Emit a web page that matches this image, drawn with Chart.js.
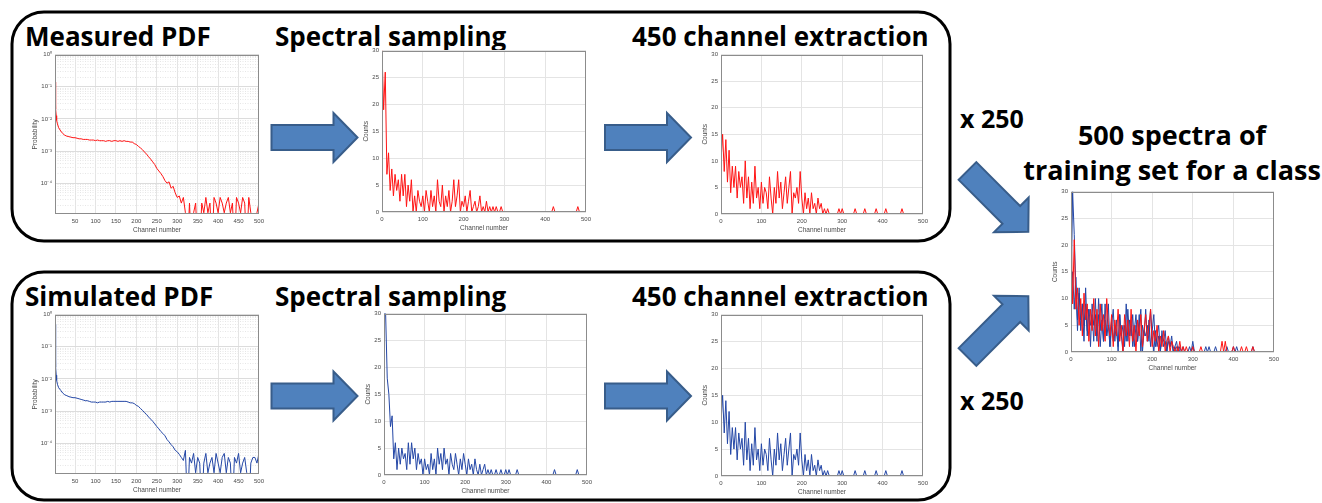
<!DOCTYPE html>
<html>
<head>
<meta charset="utf-8">
<script src="https://cdn.jsdelivr.net/npm/chart.js@4"></script>
<style>
  body { margin: 0; width: 1322px; height: 503px; background: #fff; position: relative; overflow: hidden; font-family: "Open Sans", sans-serif; }
  .t { position: absolute; font-weight: 700; color: #000; white-space: nowrap; line-height: 1; }
  canvas { position: absolute; }
  svg { position: absolute; left: 0; top: 0; }
</style>
</head>
<body>
<svg width="1322" height="503">
  <rect x="12" y="12" width="938" height="229" rx="32" fill="none" stroke="#000" stroke-width="3"/>
  <rect x="12" y="272" width="938" height="228" rx="32" fill="none" stroke="#000" stroke-width="3"/>
  <g fill="#4f81bd" stroke="#385d8a" stroke-width="2">
    <path transform="translate(271.5,137.5)" d="M0,-12.5 L62,-12.5 L62,-24.5 L86,0 L62,24.5 L62,12.5 L0,12.5 Z"/>
    <path transform="translate(605,137.5)" d="M0,-12.5 L62,-12.5 L62,-24.5 L86,0 L62,24.5 L62,12.5 L0,12.5 Z"/>
    <path transform="translate(271.5,396)" d="M0,-12.5 L62,-12.5 L62,-24.5 L86,0 L62,24.5 L62,12.5 L0,12.5 Z"/>
    <path transform="translate(605,396)" d="M0,-12.5 L62,-12.5 L62,-24.5 L86,0 L62,24.5 L62,12.5 L0,12.5 Z"/>
    <path transform="translate(967.5,171) rotate(45)" d="M0,-12.5 L62,-12.5 L62,-24.5 L86,0 L62,24.5 L62,12.5 L0,12.5 Z"/>
    <path transform="translate(967.5,357) rotate(-45)" d="M0,-12.5 L62,-12.5 L62,-24.5 L86,0 L62,24.5 L62,12.5 L0,12.5 Z"/>
  </g>
</svg>

<div class="t" style="left:25px;top:23px;font-size:26px">Measured PDF</div>
<div class="t" style="left:275px;top:23px;font-size:26px">Spectral sampling</div>
<div class="t" style="left:632px;top:23px;font-size:26px">450 channel extraction</div>
<div class="t" style="left:25px;top:283px;font-size:26px">Simulated PDF</div>
<div class="t" style="left:275px;top:283px;font-size:26px">Spectral sampling</div>
<div class="t" style="left:632px;top:283px;font-size:26px">450 channel extraction</div>
<div class="t" style="left:960px;top:106px;font-size:25px">x 250</div>
<div class="t" style="left:960px;top:388px;font-size:25px">x 250</div>
<div class="t" style="left:1012px;width:320px;text-align:center;top:121px;font-size:27px">500 spectra of</div>
<div class="t" style="left:1012px;width:320px;text-align:center;top:156px;font-size:27px">training set for a class</div>

<canvas id="mPdf"></canvas>
<canvas id="mSamp"></canvas>
<canvas id="mExt"></canvas>
<canvas id="sPdf"></canvas>
<canvas id="sSamp"></canvas>
<canvas id="sExt"></canvas>
<canvas id="train"></canvas>

<script>
// ---- data ----
const pdfChannels = [
  1, 2, 3, 4, 5, 7, 10,
  15, 20, 25, 30, 35, 40, 45, 50, 55, 60,
  65, 70, 75, 80, 85, 90, 95, 100, 105, 110,
  115, 120, 125, 130, 135, 140, 145, 150, 155, 160,
  165, 170, 175, 180, 185, 190, 195, 200, 205, 210,
  215, 220, 225, 230, 235, 240, 245, 250, 255, 260,
  265, 270, 275, 280, 285, 290, 295, 300, 305, 310,
  315, 320, 325, 330, 335, 340, 345, 350, 355, 360,
  365, 370, 375, 380, 385, 390, 395, 400, 405, 410,
  415, 420, 425, 430, 435, 440, 445, 450, 455, 460,
  465, 470, 475, 480, 485, 490, 495, 500
];

const measuredPdf = [
  0.14, 0.042, 0.02, 0.0126, 0.009, 0.007, 0.0053,
  0.0042, 0.0035, 0.0031, 0.0029, 0.0028, 0.0027, 0.0026, 0.0026, 0.0025, 0.0024,
  0.0024, 0.0023, 0.0023, 0.0023, 0.0022, 0.0022, 0.0022, 0.0021, 0.0022, 0.0021,
  0.0021, 0.0021, 0.0020, 0.0021, 0.0021, 0.0020, 0.0021, 0.0021, 0.0020, 0.0021,
  0.0020, 0.0021, 0.0020, 0.0020, 0.0019, 0.0019, 0.0017, 0.0016, 0.0014, 0.00125,
  0.0011, 0.00093, 0.0008, 0.00066, 0.00056, 0.00046, 0.00038, 0.00029, 0.00024, 0.0002,
  0.00016, 0.00012, 0.0001, 0.00011, 0.00007, 0.00008, 0.00005, 0.000036, 0.00004, 0.000024,
  0.000036, 0.000012, 0, 0.000024, 0, 0.000012, 0.000024, 0, 0, 0.000024,
  0.000012, 0.000036, 0.000012, 0.000024, 0, 0.000036, 0.000024, 0.000012, 0.000036, 0.000024,
  0.000012, 0.000024, 0.000036, 0.000012, 0.000024, 0, 0.000036, 0.000024, 0.000012, 0.000036,
  0.000024, 0, 0.000036, 0.000012, 0, 0, 0.000012, 0.000024
];

const simulatedPdf = [
  0.5, 0.076, 0.023, 0.013, 0.009, 0.0068, 0.0053,
  0.0044, 0.0036, 0.0032, 0.003, 0.0028, 0.0027, 0.0026, 0.0026, 0.0025, 0.0024,
  0.0023, 0.0022, 0.0021, 0.0021, 0.002, 0.0019, 0.0019, 0.0019, 0.0018, 0.0019,
  0.0019, 0.0019, 0.0019, 0.0020, 0.0019, 0.0020, 0.0020, 0.0020, 0.0020, 0.0020,
  0.0020, 0.0020, 0.0020, 0.0019, 0.0018, 0.0018, 0.0017, 0.0015, 0.0014, 0.0012,
  0.00105, 0.00089, 0.00078, 0.00065, 0.00056, 0.00048, 0.0004, 0.00033, 0.00028, 0.00023,
  0.0002, 0.00017, 0.00013, 0.00011, 0.00009, 0.000077, 0.00006, 0.000054, 0.000045, 0.000036,
  0.000029, 0.00006, 0, 0.000036, 0.000024, 0.000048, 0.000012, 0.000036, 0.000024, 0,
  0.000024, 0.000048, 0.000012, 0.000024, 0.000036, 0.000012, 0.000048, 0.000024, 0.000012, 0.000036,
  0.000048, 0.000012, 0.000036, 0.000024, 0, 0.000036, 0.000024, 0.000048, 0.000012, 0.000024,
  0.000036, 0.000012, 0, 0.000024, 0.000036, 0.000036, 0.000024, 0.000048
];

// channel bins for the count spectra (every 4th channel)
const countChannels = [
  0, 4, 8, 12, 16, 20, 24, 28, 32, 36,
  40, 44, 48, 52, 56, 60, 64, 68, 72, 76,
  80, 84, 88, 92, 96, 100, 104, 108, 112, 116,
  120, 124, 128, 132, 136, 140, 144, 148, 152, 156,
  160, 164, 168, 172, 176, 180, 184, 188, 192, 196,
  200, 204, 208, 212, 216, 220, 224, 228, 232, 236,
  240, 244, 248, 252, 256, 260, 264, 268, 272, 276,
  280, 284, 288, 292, 296, 300, 304, 308, 312, 316,
  320, 324, 328, 332, 336, 340, 344, 348, 352, 356,
  360, 364, 368, 372, 376, 380, 384, 388, 392, 396,
  400, 404, 408, 412, 416, 420, 424, 428, 432, 436,
  440, 444, 448, 452, 456, 460, 464, 468, 472, 476,
  480, 484, 488, 492, 496, 500
];

const measuredSampling = [
  30, 19, 26, 7, 11, 4, 8, 3, 7, 4,
  6, 2, 7, 3, 7, 1, 5, 2, 6, 0,
  3, 0, 4, 2, 1, 3, 0, 4, 2, 0,
  4, 1, 3, 0, 6, 2, 1, 5, 0, 3,
  1, 4, 0, 2, 6, 1, 3, 6, 0, 2,
  1, 3, 0, 2, 4, 0, 1, 2, 0, 1,
  3, 0, 1, 0, 2, 0, 1, 0, 1, 0,
  1, 0, 0, 1, 0, 0, 0, 0, 0, 0,
  0, 0, 0, 0, 0, 0, 0, 0, 0, 0,
  0, 0, 0, 0, 0, 0, 0, 0, 0, 0,
  0, 0, 0, 0, 0, 1, 0, 0, 0, 0,
  0, 0, 0, 0, 0, 0, 0, 0, 0, 0,
  1, 0, 0, 0, 0, 0
];

const simulatedSampling = [
  30, 30, 18, 15, 9, 11, 3, 6, 1, 5,
  2, 5, 3, 4, 1, 6, 2, 6, 3, 5,
  1, 4, 2, 3, 0, 3, 1, 2, 0, 4,
  1, 3, 0, 5, 2, 4, 1, 5, 2, 3,
  0, 4, 2, 1, 4, 2, 0, 3, 1, 4,
  2, 0, 3, 1, 2, 0, 3, 1, 0, 2,
  0, 1, 2, 0, 1, 0, 1, 0, 0, 1,
  0, 0, 1, 0, 0, 1, 0, 1, 0, 0,
  0, 0, 1, 0, 0, 0, 0, 0, 0, 0,
  0, 0, 0, 0, 0, 0, 0, 0, 0, 0,
  0, 0, 0, 0, 0, 1, 0, 0, 0, 0,
  0, 0, 0, 0, 0, 0, 0, 0, 0, 1,
  0, 0, 0, 0, 0, 0
];

// the 450-channel extraction looks identical in both rows
const extraction = [
  10, 15, 8, 14, 6, 12, 4, 9, 5, 9,
  3, 8, 5, 7, 2, 10, 3, 7, 1, 6,
  2, 9, 3, 5, 1, 6, 2, 5, 4, 1,
  7, 3, 0, 5, 2, 8, 3, 6, 1, 4,
  7, 2, 5, 8, 0, 4, 3, 5, 2, 8,
  3, 0, 4, 1, 3, 0, 4, 1, 2, 0,
  3, 1, 2, 0, 1, 0, 1, 0, 0, 0,
  0, 0, 0, 1, 0, 1, 0, 0, 0, 0,
  0, 0, 0, 1, 0, 0, 0, 0, 0, 1,
  0, 0, 0, 0, 0, 0, 1, 0, 0, 0,
  0, 0, 1, 0, 0, 0, 0, 0, 0, 0,
  0, 0, 1, 0, 0, 0, 0, 0, 0, 0,
  0, 0, 0, 0, 0, 0
];

const trainingRed = [
  24, 9, 21, 8, 12, 5, 10, 3, 11, 6,
  9, 2, 8, 4, 10, 3, 8, 1, 9, 4,
  7, 2, 10, 5, 3, 7, 1, 6, 3, 8,
  2, 5, 0, 7, 3, 6, 1, 8, 2, 5,
  0, 6, 3, 7, 1, 4, 7, 2, 5, 8,
  1, 4, 2, 5, 0, 3, 1, 4, 0, 2,
  3, 0, 2, 1, 0, 1, 0, 2, 0, 1,
  0, 1, 0, 0, 0, 1, 0, 0, 0, 0,
  1, 0, 0, 0, 0, 0, 0, 0, 0, 0,
  0, 0, 0, 2, 0, 2, 0, 0, 0, 0,
  1, 0, 0, 0, 0, 1, 0, 0, 1, 0,
  0, 0, 1, 0, 0, 0, 0, 0, 0, 0,
  0, 0, 0, 0, 0, 0
];

const trainingBlue = [
  9, 30, 22, 12, 4, 11, 6, 9, 2, 12,
  4, 8, 1, 9, 5, 7, 2, 10, 4, 9,
  2, 6, 3, 9, 1, 5, 8, 2, 6, 0,
  7, 3, 5, 1, 9, 2, 6, 3, 7, 1,
  5, 2, 7, 0, 5, 3, 8, 2, 6, 1,
  4, 7, 1, 3, 5, 0, 3, 2, 4, 0,
  2, 1, 3, 0, 1, 2, 0, 1, 0, 1,
  0, 0, 0, 0, 0, 2, 0, 0, 0, 0,
  0, 0, 0, 0, 0, 1, 0, 0, 0, 0,
  0, 0, 0, 0, 0, 0, 0, 0, 0, 0,
  1, 0, 0, 0, 0, 0, 0, 0, 0, 0,
  0, 0, 0, 0, 0, 0, 0, 0, 0, 0,
  0, 0, 0, 0, 0, 0
];

const countXTicks = [0, 100, 200, 300, 400, 500];
const countYTicks = [0, 5, 10, 15, 20, 25, 30];
const pdfXTicks = [50, 100, 150, 200, 250, 300, 350, 400, 450, 500];
const pdfYTicks = [
  2e-5, 3e-5, 4e-5, 5e-5, 6e-5, 7e-5, 8e-5, 9e-5,
  1e-4, 2e-4, 3e-4, 4e-4, 5e-4, 6e-4, 7e-4, 8e-4, 9e-4,
  1e-3, 2e-3, 3e-3, 4e-3, 5e-3, 6e-3, 7e-3, 8e-3, 9e-3,
  1e-2, 2e-2, 3e-2, 4e-2, 5e-2, 6e-2, 7e-2, 8e-2, 9e-2,
  1e-1, 2e-1, 3e-1, 4e-1, 5e-1, 6e-1, 7e-1, 8e-1, 9e-1, 1
];
const decadeLabels = { '1': '10⁰', '0.1': '10⁻¹', '0.01': '10⁻²', '0.001': '10⁻³', '0.0001': '10⁻⁴' };

const RED = '#ff1414';
const BLUE = '#2447a6';
const logFloor = 1e-6; // zero probability drawn off the bottom of the log axis

// ---- helpers ----
const tickFont = { family: 'Liberation Sans', size: 6 };
const titleFont = { family: 'Liberation Sans', size: 6.5 };
const tickColor = '#4a4a4a';

const boxPlugin = {
  id: 'box',
  afterDraw(chart) {
    const a = chart.chartArea, c = chart.ctx;
    c.save();
    c.strokeStyle = '#8c8c8c';
    c.lineWidth = 1;
    c.strokeRect(Math.round(a.left) + 0.5, Math.round(a.top) + 0.5,
      Math.round(a.right - a.left) - 1, Math.round(a.bottom - a.top) - 1);
    c.restore();
  }
};

function place(id, plot, yw) {
  const el = document.getElementById(id);
  el.width = plot.w + yw + 8;
  el.height = plot.h + 6 + 20;
  el.style.left = (plot.x - yw) + 'px';
  el.style.top = (plot.y - 6) + 'px';
  return el;
}

function axisX(ticks, min, max) {
  return {
    type: 'linear', min, max,
    afterBuildTicks: s => { s.ticks = ticks.map(v => ({ value: v })); },
    afterFit: s => { s.height = 20; },
    grid: { color: '#e4e4e4', drawTicks: false },
    border: { display: false },
    ticks: { font: tickFont, color: tickColor, padding: 4, maxRotation: 0, autoSkip: false },
    title: { display: true, text: 'Channel number', font: titleFont, color: tickColor, padding: 0 }
  };
}

function countChart(id, plot, sets) {
  const el = place(id, plot, 20);
  new Chart(el, {
    type: 'line',
    data: {
      datasets: sets.map(s => ({
        data: countChannels.map((c, i) => ({ x: c, y: s.values[i] })),
        borderColor: s.color, borderWidth: 1, pointRadius: 0, tension: 0
      }))
    },
    options: {
      responsive: false, animation: false, devicePixelRatio: 1,
      layout: { padding: { top: 6, right: 8, left: 0, bottom: 0 } },
      plugins: { legend: { display: false }, tooltip: { enabled: false } },
      scales: {
        x: axisX(countXTicks, 0, 500),
        y: {
          min: 0, max: 30,
          afterBuildTicks: s => { s.ticks = countYTicks.map(v => ({ value: v })); },
          afterFit: s => { s.width = 20; },
          grid: { color: '#e4e4e4', drawTicks: false },
          border: { display: false },
          ticks: { font: tickFont, color: tickColor, padding: 3, autoSkip: false },
          title: { display: true, text: 'Counts', font: titleFont, color: tickColor, padding: 0 }
        }
      }
    },
    plugins: [boxPlugin]
  });
}

function pdfChart(id, plot, values, color) {
  const el = place(id, plot, 24);
  const isDecade = v => decadeLabels[String(v)] !== undefined;
  new Chart(el, {
    type: 'line',
    data: {
      datasets: [{
        data: pdfChannels.map((c, i) => ({ x: c, y: values[i] > 0 ? values[i] : logFloor })),
        borderColor: color, borderWidth: 1, pointRadius: 0, tension: 0
      }]
    },
    options: {
      responsive: false, animation: false, devicePixelRatio: 1,
      layout: { padding: { top: 6, right: 8, left: 0, bottom: 0 } },
      plugins: { legend: { display: false }, tooltip: { enabled: false } },
      scales: {
        x: axisX(pdfXTicks, 1, 500),
        y: {
          type: 'logarithmic', min: 1.1e-5, max: 1,
          afterBuildTicks: s => { s.ticks = pdfYTicks.map(v => ({ value: v })); },
          afterFit: s => { s.width = 24; },
          grid: {
            drawTicks: false,
            color: c => (c.tick && isDecade(c.tick.value)) ? '#dcdcdc' : '#e6e6e6'
          },
          border: { display: false, dash: c => (c.tick && isDecade(c.tick.value)) ? [] : [1, 1.5] },
          ticks: {
            font: tickFont, color: tickColor, padding: 3, autoSkip: false,
            callback: v => decadeLabels[String(v)] || ''
          },
          title: { display: true, text: 'Probability', font: titleFont, color: tickColor, padding: 0 }
        }
      }
    },
    plugins: [boxPlugin]
  });
}

// ---- the seven panels ----
pdfChart('mPdf', { x: 55, y: 54, w: 205, h: 160 }, measuredPdf, RED);
countChart('mSamp', { x: 382, y: 50, w: 205, h: 162 }, [{ values: measuredSampling, color: RED }]);
countChart('mExt', { x: 721, y: 54, w: 203, h: 160 }, [{ values: extraction, color: RED }]);

pdfChart('sPdf', { x: 55, y: 314, w: 205, h: 160 }, simulatedPdf, BLUE);
countChart('sSamp', { x: 384, y: 313, w: 204, h: 162 }, [{ values: simulatedSampling, color: BLUE }]);
countChart('sExt', { x: 721, y: 314, w: 203, h: 162 }, [{ values: extraction, color: BLUE }]);

// overlay of the red (measured) and blue (simulated) training spectra
countChart('train', { x: 1071, y: 191, w: 204, h: 161 }, [
  { values: trainingRed, color: RED },
  { values: extraction, color: BLUE },
  { values: trainingBlue, color: BLUE }
]);
</script>
</body>
</html>
